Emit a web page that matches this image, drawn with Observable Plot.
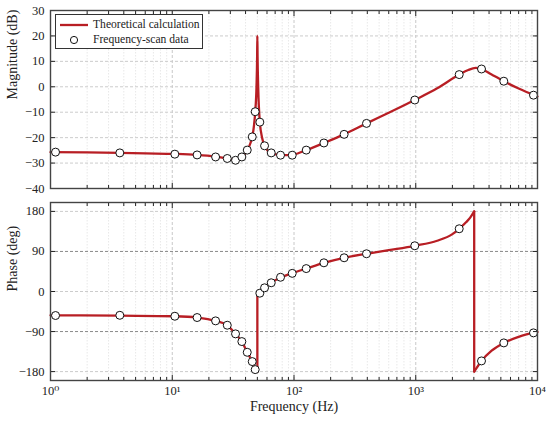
<!DOCTYPE html>
<html><head><meta charset="utf-8">
<script src="https://cdn.jsdelivr.net/npm/d3@7"></script>
<script src="https://cdn.jsdelivr.net/npm/@observablehq/plot@0.6"></script>
<style>
body{margin:0;background:#fff;font-family:"Liberation Serif","Times New Roman",Times,"DejaVu Serif",serif;}
#wrap{position:relative;width:550px;height:422px;}
#wrap svg{display:block;}
#wrap svg text{font-family:"Liberation Serif","Times New Roman",Times,"DejaVu Serif",serif;}
#legend{position:absolute;left:55px;top:14px;width:148px;height:35px;border:1px solid #333;background:#fff;box-sizing:border-box;font-family:"Liberation Serif","Times New Roman",Times,"DejaVu Serif",serif;font-size:11.6px;color:#222;}
#legend .row{position:absolute;left:0;height:16px;line-height:16px;}
#legend .sw{position:absolute;left:2px;top:0;width:32px;height:16px;}
#legend .tx{position:absolute;left:37px;top:0;white-space:nowrap;}
</style></head><body>
<div id="wrap"></div>
<script>
// ---- Data ----
// Theoretical magnitude curve (Hz, dB)
const magCurveFreq = [1, 2, 3.7, 6, 10.5, 16, 22.7, 28.3, 32, 35, 37.3, 41.3, 44, 45.4, 47, 48, 49.2, 49.8, 50, 50.2, 50.8, 52.4, 55, 57.3, 61, 65, 72, 80, 90, 100, 126, 176, 258, 394, 600, 982, 1500, 2275, 2700, 3100, 3468, 4200, 5287, 7000, 10000];
const magCurveDb   = [-25.7, -25.8, -26.0, -26.2, -26.4, -26.8, -27.5, -28.2, -28.6, -28.4, -27.6, -25.0, -22.0, -19.7, -15.0, -10.0, 0, 12, 20, 12, 0, -13.9, -20.5, -23.2, -25.2, -26.0, -26.6, -26.9, -26.9, -26.6, -24.9, -22.1, -18.7, -14.4, -10.2, -5.2, -0.6, 4.8, 6.6, 7.4, 7.0, 4.8, 2.2, -0.7, -3.8];

// Theoretical phase curve (Hz, deg), split into segments at the wraps
const phaseCurveFreq = [1, 3.7, 10.5, 16, 22.7, 28.3, 33.1, 37.3, 41.3, 45.4, 48, 50,
  50, 50,
  50, 52.4, 57.3, 65, 77.5, 96.7, 126, 176, 258, 394, 600, 982, 1500, 2000, 2275, 2600, 2800, 3020,
  3020, 3020,
  3020, 3468, 4200, 5287, 7000, 10000];
const phaseCurveDeg = [-53.5, -54, -55.6, -58.5, -66, -76, -95, -112.5, -136.6, -157.5, -175, -180,
  -180, -5,
  -5, -3, 8.3, 19.6, 31.5, 41, 51.5, 64.5, 75.8, 84.8, 93, 102.8, 114, 129, 141, 156, 166, 180,
  180, -180,
  -180, -156, -133, -115.5, -102, -91];
const phaseCurveSeg = [..."AAAAAAAAAAAA", ..."BB", ..."CCCCCCCCCCCCCCCCCC", ..."DD", ..."EEEEEE"];

// Frequency-scan data points
const scanFreq  = [1.1, 3.71, 10.5, 16, 22.7, 28.3, 33.1, 37.3, 41.3, 45.4, 48, 52.4, 57.3, 65, 77.5, 96.7, 126, 176, 258, 394, 982, 2275, 3468, 5287, 9270];
const scanMag   = [-25.7, -26.0, -26.5, -26.8, -27.6, -28.2, -28.9, -27.6, -24.9, -19.7, -9.8, -13.9, -23.2, -26.0, -26.9, -26.9, -24.9, -22.1, -18.7, -14.4, -5.2, 4.8, 7.0, 2.2, -3.3];
const scanPhase = [-54, -53.5, -55.6, -58.5, -66, -75.8, -95.2, -112.5, -136.6, -157.5, -175.5, -3.8, 8.3, 19.6, 32, 40.8, 51.5, 64.5, 75.8, 84.8, 102.8, 141, -156, -115.5, -93];

// Ticks and labels
const xMajor = [1, 10, 100, 1000, 10000];
const xMajorLabels = ["10\u2070", "10\u00B9", "10\u00B2", "10\u00B3", "10\u2074"];
const xMinor = [1, 10, 100, 1000].flatMap(d => [2,3,4,5,6,7,8,9].map(k => k * d));
const magTicks = [-40, -30, -20, -10, 0, 10, 20, 30];
const phaseTicks = [-180, -90, 0, 90, 180];
const phaseGridStrong = [-90, 90];
const phaseGridLight = [-180, 0, 180];

const seriesLabels = ["Theoretical calculation", "Frequency-scan data"];
const axisLabels = {mag: "Magnitude (dB)", phase: "Phase (deg)", freq: "Frequency (Hz)"};

// ---- Build tables ----
const magCurve = magCurveFreq.map((f, i) => ({f, v: magCurveDb[i]}));
const phaseCurve = phaseCurveFreq.map((f, i) => ({f, v: phaseCurveDeg[i], s: phaseCurveSeg[i]}));
const scanM = scanFreq.map((f, i) => ({f, v: scanMag[i]}));
const scanP = scanFreq.map((f, i) => ({f, v: scanPhase[i]}));

const RED = "#b81e24";
const FONT = "'Liberation Serif', 'Times New Roman', Times, 'DejaVu Serif', serif";
const W = 550, ML = 50, MR = 13;

function frameMarks(yTicks, showXLabels) {
  return [
    Plot.axisX({anchor: "bottom", ticks: xMinor, tickSize: -3, tickFormat: () => "", label: null}),
    Plot.axisX({anchor: "top", ticks: xMinor, tickSize: -3, tickFormat: () => "", label: null}),
    Plot.axisX({anchor: "top", ticks: xMajor, tickSize: -5, tickFormat: () => "", label: null}),
    Plot.axisX({anchor: "bottom", ticks: xMajor, tickSize: -5, tickPadding: 11,
      tickFormat: showXLabels ? (d => xMajorLabels[xMajor.indexOf(d)]) : (() => ""), label: null}),
    Plot.axisY({anchor: "left", ticks: yTicks, tickSize: -5, tickPadding: 11, label: null}),
    Plot.axisY({anchor: "right", ticks: yTicks, tickSize: -5, tickFormat: () => "", label: null}),
    Plot.frame({stroke: "#444", strokeWidth: 1.4})
  ];
}

const common = {
  width: W, marginLeft: ML, marginRight: MR,
  style: {fontFamily: FONT, fontSize: "12.5px", color: "#222", background: "white", overflow: "visible"},
  x: {type: "log", domain: [1, 10000]}
};

const upper = Plot.plot({
  ...common,
  height: 196, marginTop: 10, marginBottom: 8,
  y: {domain: [-40, 30]},
  marks: [
    Plot.gridX(xMinor, {stroke: "#e8e8e8", strokeOpacity: 1, strokeDasharray: "1.5,1.5"}),
    Plot.gridX(xMajor, {stroke: "#c8c8c8", strokeOpacity: 1, strokeDasharray: "3,2"}),
    Plot.gridY(magTicks, {stroke: "#cccccc", strokeOpacity: 1, strokeDasharray: "3,2"}),
    Plot.line(magCurve, {x: "f", y: "v", stroke: RED, strokeWidth: 2.3, curve: "monotone-x"}),
    Plot.dot(scanM, {x: "f", y: "v", r: 4, fill: "white", stroke: "#111", strokeWidth: 1}),
    ...frameMarks(magTicks, false),
    Plot.text([axisLabels.mag], {text: d => d, frameAnchor: "left", dx: -38, rotate: -90, fontSize: 14, fill: "#222"})
  ]
});

const lower = Plot.plot({
  ...common,
  height: 226, marginTop: 6, marginBottom: 42,
  y: {domain: [-200, 200]},
  marks: [
    Plot.gridX(xMinor, {stroke: "#e8e8e8", strokeOpacity: 1, strokeDasharray: "1.5,1.5"}),
    Plot.gridX(xMajor, {stroke: "#c8c8c8", strokeOpacity: 1, strokeDasharray: "3,2"}),
    Plot.gridY(phaseGridLight, {stroke: "#cccccc", strokeOpacity: 1, strokeDasharray: "3,2"}),
    Plot.gridY(phaseGridStrong, {stroke: "#8a8a8a", strokeOpacity: 1, strokeDasharray: "3,2"}),
    Plot.line(phaseCurve, {x: "f", y: "v", z: "s", stroke: RED, strokeWidth: 2.3, curve: "monotone-x"}),
    Plot.dot(scanP, {x: "f", y: "v", r: 4, fill: "white", stroke: "#111", strokeWidth: 1}),
    ...frameMarks(phaseTicks, true),
    Plot.text([axisLabels.phase], {text: d => d, frameAnchor: "left", dx: -38, rotate: -90, fontSize: 14, fill: "#222"}),
    Plot.text([axisLabels.freq], {text: d => d, frameAnchor: "bottom", dy: 30, fontSize: 14, fill: "#222"})
  ]
});

const wrap = document.getElementById("wrap");
wrap.appendChild(upper);
wrap.appendChild(lower);

// Legend (inside the magnitude panel)
const legend = document.createElement("div");
legend.id = "legend";
legend.innerHTML = `
  <div class="row" style="top:2px;width:100%"><svg class="sw"><line x1="2" x2="30" y1="8" y2="8" stroke="${RED}" stroke-width="2.3"/></svg><span class="tx">${seriesLabels[0]}</span></div>
  <div class="row" style="top:17px;width:100%"><svg class="sw"><circle cx="16" cy="8" r="3.6" fill="white" stroke="#111" stroke-width="1"/></svg><span class="tx">${seriesLabels[1]}</span></div>`;
wrap.appendChild(legend);
</script>
</body></html>
